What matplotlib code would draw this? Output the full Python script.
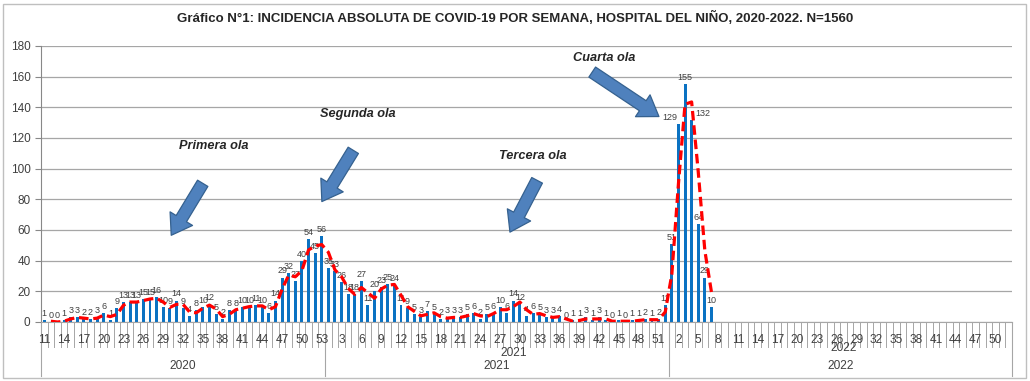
import numpy as np
import matplotlib.pyplot as plt
from matplotlib.patches import FancyArrowPatch, Rectangle
import matplotlib.transforms as mtransforms

# weekly cases
weeks_2020 = list(range(11, 54))
cases_2020 = [1, 0, 0, 1, 3, 3, 2, 2, 3, 6,
              1, 9, 13, 13, 13, 15, 15, 16, 10, 9,
              14, 9, 4, 8, 10, 12, 5, 2, 8, 8,
              10, 10, 11, 10, 6, 14, 29, 32, 27, 40,
              54, 45, 56]
weeks_2021 = list(range(1, 53))
cases_2021 = [35, 33, 26, 18, 18, 27, 11, 20, 23, 25,
              24, 11, 9, 5, 3, 7, 5, 2, 3, 3,
              3, 5, 6, 2, 5, 6, 10, 6, 14, 12,
              4, 6, 5, 3, 3, 4, 0, 1, 1, 3,
              1, 3, 1, 0, 1, 0, 1, 1, 2, 1,
              2, 11]
weeks_2022 = list(range(1, 53))
cases_2022 = [51, 129, 155, 132, 64, 29, 10]
years = ["2020", "2021", "2022"]

waves = ["Primera ola", "Segunda ola", "Tercera ola", "Cuarta ola"]

title = "Gráfico N°1: INCIDENCIA ABSOLUTA DE COVID-19 POR SEMANA, HOSPITAL DEL NIÑO, 2020-2022. N=1560"

week_labels = weeks_2020 + weeks_2021 + weeks_2022
n_cat = len(week_labels)
cases = np.array(cases_2020 + cases_2021 + cases_2022, dtype=float)
x = np.arange(len(cases))

# 2-week moving average trendline (as in the original)
ma = (cases[1:] + cases[:-1]) / 2
x_ma = x[1:]

W, H = 1030, 381
fig = plt.figure(figsize=(W / 100, H / 100), dpi=100)
ax = fig.add_axes([41 / W, (H - 322) / H, (1012 - 41) / W, 276 / H])

bar_col = "#0B72C2"
txt_col = "#404040"

ax.bar(x, cases, width=0.45, color=bar_col, zorder=2)

offsets = {129: -6, 132: 8}
for xi, v in zip(x, cases):
    ax.annotate(str(int(v)), (xi, v), xytext=(offsets.get(int(v), 0), 1.5),
                textcoords="offset points", ha="center", va="bottom",
                fontsize=6.5, color=txt_col, zorder=3,
                family=["Liberation Sans", "DejaVu Sans"])

ax.plot(x_ma, ma, color="#FF0000", lw=2.3, ls=(0, (3, 1.5)), zorder=4,
        solid_capstyle="butt", dash_capstyle="butt")

ax.set_xlim(-0.5, n_cat - 0.5)
ax.set_ylim(0, 180)
ax.set_yticks(np.arange(0, 181, 20))
ax.yaxis.grid(True, color="#A6A6A6", lw=0.9, zorder=0)
ax.set_axisbelow(True)
ax.tick_params(axis="y", labelsize=8.5, colors=txt_col, length=4, color="#888888")
for lab in ax.get_yticklabels():
    lab.set_family(["Liberation Sans", "DejaVu Sans"])
ax.set_xticks([])
for s in ["top", "right"]:
    ax.spines[s].set_visible(False)
ax.spines["left"].set_color("#888888")
ax.spines["bottom"].set_color("#A6A6A6")

# multi-level category axis
tr = mtransforms.blended_transform_factory(ax.transData, ax.transAxes)
comb = np.arange(n_cat + 1) - 0.5
for c in comb:
    ax.plot([c, c], [0, -0.09], color="#A6A6A6", lw=0.7, transform=tr, clip_on=False)
bounds = [-0.5, len(weeks_2020) - 0.5, len(weeks_2020) + len(weeks_2021) - 0.5, n_cat - 0.5]
for b in bounds:
    ax.plot([b, b], [0, -0.195], color="#A6A6A6", lw=0.8, transform=tr, clip_on=False)
narrow = ["Liberation Sans Narrow", "Liberation Sans", "DejaVu Sans"]
for i in range(0, n_cat, 3):
    ax.text(i, -0.067, str(week_labels[i]), transform=tr, ha="center", va="center",
            fontsize=8.6, color=txt_col, family=narrow)
for k, yr in enumerate(years):
    ax.text((bounds[k] + bounds[k + 1]) / 2, -0.159, yr, transform=tr, ha="center",
            va="center", fontsize=8.6, color=txt_col, family=narrow)
ax.text(71, -0.112, years[1], transform=tr, ha="center", va="center",
        fontsize=8.6, color=txt_col, family=narrow)
ax.text(121, -0.094, years[2], transform=tr, ha="center", va="center",
        fontsize=8.6, color=txt_col, family=narrow)

# wave annotations
wave_txt = [(25.6, 114.5), (47.4, 135.5), (73.9, 108.5), (84.8, 172)]
wave_arrows = [((24.2, 92), (19.0, 55)),
               ((47.0, 113.5), (41.8, 77)),
               ((74.8, 94), (70.3, 57)),
               ((82.6, 164), (93.4, 133)) ]
for name, (tx, ty), (pa, pb) in zip(waves, wave_txt, wave_arrows):
    ax.text(tx, ty, name, ha="center", va="center", fontsize=9.2,
            fontweight="bold", fontstyle="italic", color="#262626",
            family=["Liberation Sans", "DejaVu Sans"])
    ax.add_patch(FancyArrowPatch(pa, pb, arrowstyle="simple,head_width=1.35,head_length=1.0,tail_width=0.62",
                                 mutation_scale=14, facecolor="#4F81BD", edgecolor="#35618F",
                                 lw=0.9, zorder=5))

fig.text(0.5, 1 - 18 / H, title, ha="center", va="center", fontsize=9.5,
         fontweight="bold", color="#262626", family=["Liberation Sans", "DejaVu Sans"])

fig.patches.append(Rectangle((3 / W, 3 / H), 1023 / W, 374 / H, transform=fig.transFigure,
                             fill=False, edgecolor="#BFBFBF", lw=1.0))

fig.savefig("out.png", dpi=100)
